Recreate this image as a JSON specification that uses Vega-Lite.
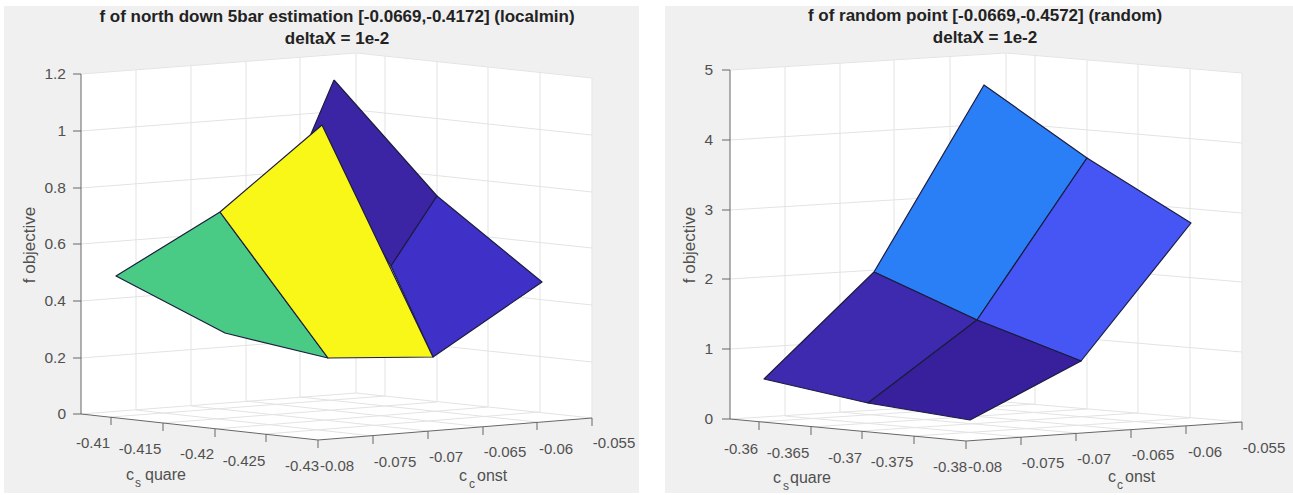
{"$schema":"https://vega.github.io/schema/vega-lite/v6.json","autosize":{"type":"fit","contains":"padding"},"width":1293,"height":495,"padding":0,"background":"white","view":{"stroke":null},
"config":{"text":{"font":"Liberation Sans"}},
"datasets":{
"panels":[{"u":4,"u2":639,"v":6,"v2":493},{"u":665,"u2":1293,"v":6,"v2":493}],
"walls":[
{"w":"a","i":0,"u":81,"v":74},{"w":"a","i":1,"u":356,"v":53},{"w":"a","i":2,"u":592,"v":78},{"w":"a","i":3,"u":592,"v":418},{"w":"a","i":4,"u":318,"v":440},{"w":"a","i":5,"u":81,"v":414},
{"w":"b","i":0,"u":730,"v":70},{"w":"b","i":1,"u":1006,"v":53},{"w":"b","i":2,"u":1242,"v":73},{"w":"b","i":3,"u":1242,"v":422},{"w":"b","i":4,"u":966,"v":441},{"w":"b","i":5,"u":730,"v":419}],
"grid":[
{"u":81,"v":74,"u2":356,"v2":53},{"u":356,"v":53,"u2":592,"v2":78},
{"u":81,"v":131,"u2":356,"v2":110},{"u":356,"v":110,"u2":592,"v2":135},
{"u":81,"v":188,"u2":356,"v2":167},{"u":356,"v":167,"u2":592,"v2":192},
{"u":81,"v":244,"u2":356,"v2":223},{"u":356,"v":223,"u2":592,"v2":248},
{"u":81,"v":301,"u2":356,"v2":280},{"u":356,"v":280,"u2":592,"v2":305},
{"u":81,"v":358,"u2":356,"v2":337},{"u":356,"v":337,"u2":592,"v2":362},
{"u":136,"v":70,"u2":136,"v2":410},{"u":191,"v":66,"u2":191,"v2":406},{"u":246,"v":61,"u2":246,"v2":401},{"u":300,"v":57,"u2":300,"v2":397},{"u":356,"v":53,"u2":356,"v2":393},
{"u":385,"v":56,"u2":385,"v2":396},{"u":437,"v":62,"u2":437,"v2":402},{"u":488,"v":67,"u2":488,"v2":407},{"u":540,"v":72,"u2":540,"v2":412},{"u":592,"v":78,"u2":592,"v2":418},
{"u":81,"v":414,"u2":356,"v2":393},{"u":356,"v":393,"u2":592,"v2":418},
{"u":136,"v":410,"u2":373,"v2":436},{"u":191,"v":406,"u2":428,"v2":431},{"u":246,"v":401,"u2":483,"v2":427},{"u":300,"v":397,"u2":537,"v2":422},
{"u":111,"v":417,"u2":385,"v2":396},{"u":163,"v":423,"u2":437,"v2":402},{"u":215,"v":429,"u2":488,"v2":407},{"u":266,"v":434,"u2":540,"v2":412},
{"u":730,"v":70,"u2":1006,"v2":53},{"u":1006,"v":53,"u2":1242,"v2":73},
{"u":730,"v":140,"u2":1006,"v2":123},{"u":1006,"v":123,"u2":1242,"v2":143},
{"u":730,"v":210,"u2":1006,"v2":193},{"u":1006,"v":193,"u2":1242,"v2":213},
{"u":730,"v":279,"u2":1006,"v2":262},{"u":1006,"v":262,"u2":1242,"v2":282},
{"u":730,"v":349,"u2":1006,"v2":332},{"u":1006,"v":332,"u2":1242,"v2":352},
{"u":785,"v":67,"u2":785,"v2":416},{"u":840,"v":63,"u2":840,"v2":412},{"u":894,"v":60,"u2":894,"v2":409},{"u":950,"v":56,"u2":950,"v2":405},{"u":1006,"v":53,"u2":1006,"v2":402},
{"u":1035,"v":55,"u2":1035,"v2":404},{"u":1087,"v":60,"u2":1087,"v2":409},{"u":1138,"v":64,"u2":1138,"v2":413},{"u":1190,"v":69,"u2":1190,"v2":418},{"u":1242,"v":73,"u2":1242,"v2":422},
{"u":730,"v":419,"u2":1006,"v2":402},{"u":1006,"v":402,"u2":1242,"v2":422},
{"u":785,"v":416,"u2":1021,"v2":437},{"u":840,"v":412,"u2":1076,"v2":433},{"u":894,"v":409,"u2":1131,"v2":430},{"u":950,"v":405,"u2":1186,"v2":426},
{"u":759,"v":422,"u2":1035,"v2":404},{"u":811,"v":427,"u2":1087,"v2":409},{"u":862,"v":431,"u2":1138,"v2":413},{"u":914,"v":436,"u2":1190,"v2":418}],
"axes":[
{"u":81,"v":74,"u2":81,"v2":414},{"u":81,"v":414,"u2":318,"v2":440},{"u":318,"v":440,"u2":592,"v2":418},
{"u":73,"v":74,"u2":81,"v2":74},{"u":73,"v":131,"u2":81,"v2":131},{"u":73,"v":188,"u2":81,"v2":188},{"u":73,"v":244,"u2":81,"v2":244},{"u":73,"v":301,"u2":81,"v2":301},{"u":73,"v":358,"u2":81,"v2":358},{"u":73,"v":414,"u2":81,"v2":414},
{"u":111,"v":417,"u2":111,"v2":425},{"u":163,"v":423,"u2":163,"v2":431},{"u":215,"v":429,"u2":215,"v2":437},{"u":266,"v":434,"u2":266,"v2":442},{"u":318,"v":440,"u2":318,"v2":448},
{"u":373,"v":436,"u2":373,"v2":444},{"u":428,"v":431,"u2":428,"v2":439},{"u":483,"v":427,"u2":483,"v2":435},{"u":537,"v":422,"u2":537,"v2":430},{"u":592,"v":418,"u2":592,"v2":426},
{"u":730,"v":70,"u2":730,"v2":419},{"u":730,"v":419,"u2":966,"v2":441},{"u":966,"v":441,"u2":1242,"v2":422},
{"u":722,"v":70,"u2":730,"v2":70},{"u":722,"v":140,"u2":730,"v2":140},{"u":722,"v":210,"u2":730,"v2":210},{"u":722,"v":279,"u2":730,"v2":279},{"u":722,"v":349,"u2":730,"v2":349},{"u":722,"v":419,"u2":730,"v2":419},
{"u":759,"v":422,"u2":759,"v2":430},{"u":811,"v":427,"u2":811,"v2":435},{"u":862,"v":431,"u2":862,"v2":439},{"u":914,"v":436,"u2":914,"v2":444},{"u":966,"v":441,"u2":966,"v2":449},
{"u":1021,"v":437,"u2":1021,"v2":445},{"u":1076,"v":433,"u2":1076,"v2":441},{"u":1131,"v":430,"u2":1131,"v2":438},{"u":1186,"v":426,"u2":1186,"v2":434},{"u":1242,"v":422,"u2":1242,"v2":430}],
"patches":[
{"patch":"L dark","i":0,"u":334,"v":80},{"patch":"L dark","i":1,"u":437,"v":196},{"patch":"L dark","i":2,"u":391,"v":266},{"patch":"L dark","i":3,"u":311,"v":134},{"patch":"L dark","i":4,"u":334,"v":80},
{"patch":"L blue","i":0,"u":437,"v":196},{"patch":"L blue","i":1,"u":542,"v":282},{"patch":"L blue","i":2,"u":433,"v":357},{"patch":"L blue","i":3,"u":391,"v":266},{"patch":"L blue","i":4,"u":437,"v":196},
{"patch":"L green","i":0,"u":220,"v":212},{"patch":"L green","i":1,"u":116,"v":276},{"patch":"L green","i":2,"u":225,"v":333},{"patch":"L green","i":3,"u":328,"v":358},{"patch":"L green","i":4,"u":220,"v":212},
{"patch":"L yellow","i":0,"u":220,"v":212},{"patch":"L yellow","i":1,"u":322,"v":125},{"patch":"L yellow","i":2,"u":433,"v":357},{"patch":"L yellow","i":3,"u":328,"v":358},{"patch":"L yellow","i":4,"u":220,"v":212},
{"patch":"R sky","i":0,"u":874,"v":272},{"patch":"R sky","i":1,"u":984,"v":85},{"patch":"R sky","i":2,"u":1087,"v":158},{"patch":"R sky","i":3,"u":977,"v":320},{"patch":"R sky","i":4,"u":874,"v":272},
{"patch":"R blue","i":0,"u":1087,"v":158},{"patch":"R blue","i":1,"u":1191,"v":223},{"patch":"R blue","i":2,"u":1081,"v":361},{"patch":"R blue","i":3,"u":977,"v":320},{"patch":"R blue","i":4,"u":1087,"v":158},
{"patch":"R purple","i":0,"u":874,"v":272},{"patch":"R purple","i":1,"u":977,"v":320},{"patch":"R purple","i":2,"u":868,"v":403},{"patch":"R purple","i":3,"u":764,"v":379},{"patch":"R purple","i":4,"u":874,"v":272},
{"patch":"R dark","i":0,"u":977,"v":320},{"patch":"R dark","i":1,"u":1081,"v":361},{"patch":"R dark","i":2,"u":970,"v":420},{"patch":"R dark","i":3,"u":868,"v":403},{"patch":"R dark","i":4,"u":977,"v":320}],
"titles":[
{"u":337,"v":17,"t":"f of north down 5bar estimation [-0.0669,-0.4172] (localmin)"},{"u":337,"v":39,"t":"deltaX = 1e-2"},
{"u":985,"v":16,"t":"f of random point [-0.0669,-0.4572] (random)"},{"u":985,"v":38,"t":"deltaX = 1e-2"}],
"zlabels":[
{"u":66,"v":74,"t":"1.2"},{"u":66,"v":131,"t":"1"},{"u":66,"v":188,"t":"0.8"},{"u":66,"v":244,"t":"0.6"},{"u":66,"v":301,"t":"0.4"},{"u":66,"v":358,"t":"0.2"},{"u":66,"v":414,"t":"0"},
{"u":713,"v":70,"t":"5"},{"u":713,"v":140,"t":"4"},{"u":713,"v":210,"t":"3"},{"u":713,"v":279,"t":"2"},{"u":713,"v":349,"t":"1"},{"u":713,"v":419,"t":"0"}],
"xlabels":[
{"u":93,"v":443,"t":"-0.41"},{"u":140,"v":449,"t":"-0.415"},{"u":197,"v":454,"t":"-0.42"},{"u":244,"v":461,"t":"-0.425"},{"u":302,"v":466,"t":"-0.43"},
{"u":337,"v":466,"t":"-0.08"},{"u":395,"v":462,"t":"-0.075"},{"u":446,"v":457,"t":"-0.07"},{"u":505,"v":452,"t":"-0.065"},{"u":556,"v":449,"t":"-0.06"},{"u":614,"v":443,"t":"-0.055"},
{"u":741,"v":449,"t":"-0.36"},{"u":788,"v":453,"t":"-0.365"},{"u":845,"v":458,"t":"-0.37"},{"u":892,"v":462,"t":"-0.375"},{"u":950,"v":467,"t":"-0.38"},
{"u":985,"v":467,"t":"-0.08"},{"u":1043,"v":463,"t":"-0.075"},{"u":1094,"v":459,"t":"-0.07"},{"u":1153,"v":455,"t":"-0.065"},{"u":1205,"v":452,"t":"-0.06"},{"u":1264,"v":448,"t":"-0.055"}],
"axtitles":[
{"u":126,"v":480,"t":"c"},{"u":145,"v":480,"t":"quare"},{"u":459,"v":481,"t":"c"},{"u":477,"v":481,"t":"onst"},
{"u":773,"v":483,"t":"c"},{"u":790,"v":483,"t":"quare"},{"u":1108,"v":482,"t":"c"},{"u":1125,"v":482,"t":"onst"}],
"subs":[
{"u":135,"v":487,"t":"s"},{"u":469,"v":488,"t":"c"},{"u":783,"v":490,"t":"s"},{"u":1117,"v":489,"t":"c"}],
"ztitles":[{"u":30,"v":245,"t":"f objective"},{"u":690,"v":245,"t":"f objective"}]
},
"encoding":{
"x":{"field":"u","type":"quantitative","scale":{"domain":[0,1293],"nice":false,"zero":false},"axis":null},
"y":{"field":"v","type":"quantitative","scale":{"domain":[495,0],"nice":false,"zero":false},"axis":null}
},
"layer":[
{"data":{"name":"panels"},"mark":{"type":"rect","fill":"#f0f0f0"},"encoding":{"x2":{"field":"u2"},"y2":{"field":"v2"}}},
{"data":{"name":"walls"},"mark":{"type":"line","fill":"white","stroke":"white","strokeWidth":0.5},"encoding":{"detail":{"field":"w"},"order":{"field":"i","type":"quantitative"}}},
{"data":{"name":"grid"},"mark":{"type":"rule","stroke":"#e3e3e3","strokeWidth":1},"encoding":{"x2":{"field":"u2"},"y2":{"field":"v2"}}},
{"data":{"name":"axes"},"mark":{"type":"rule","stroke":"#666666","strokeWidth":1},"encoding":{"x2":{"field":"u2"},"y2":{"field":"v2"}}},
{"data":{"name":"patches"},"mark":{"type":"line","stroke":"#1c1c40","strokeWidth":1.2,"strokeJoin":"round"},"encoding":{"detail":{"field":"patch"},"order":{"field":"i","type":"quantitative"},"fill":{"field":"patch","type":"nominal","legend":null,"scale":{"domain":["L dark","L blue","L green","L yellow","R sky","R blue","R purple","R dark"],"range":["#3B25A5","#3F30C8","#4ACB85","#F9F718","#2A7FF6","#4556F5","#3D2AAE","#38209C"]}}}},
{"data":{"name":"titles"},"mark":{"type":"text","fontSize":17,"fontWeight":"bold","font":"Liberation Sans","fill":"#222222","align":"center","baseline":"middle"},"encoding":{"text":{"field":"t"}}},
{"data":{"name":"zlabels"},"mark":{"type":"text","fontSize":15.5,"font":"Liberation Sans","fill":"#505050","align":"right","baseline":"middle"},"encoding":{"text":{"field":"t"}}},
{"data":{"name":"xlabels"},"mark":{"type":"text","fontSize":15,"font":"Liberation Sans","fill":"#505050","align":"center","baseline":"middle"},"encoding":{"text":{"field":"t"}}},
{"data":{"name":"axtitles"},"mark":{"type":"text","fontSize":16,"font":"Liberation Sans","fill":"#505050","align":"left","baseline":"alphabetic"},"encoding":{"text":{"field":"t"}}},
{"data":{"name":"subs"},"mark":{"type":"text","fontSize":12,"font":"Liberation Sans","fill":"#505050","align":"left","baseline":"alphabetic"},"encoding":{"text":{"field":"t"}}},
{"data":{"name":"ztitles"},"mark":{"type":"text","fontSize":17,"angle":270,"font":"Liberation Sans","fill":"#505050","align":"center","baseline":"middle"},"encoding":{"text":{"field":"t"}}}
]}
